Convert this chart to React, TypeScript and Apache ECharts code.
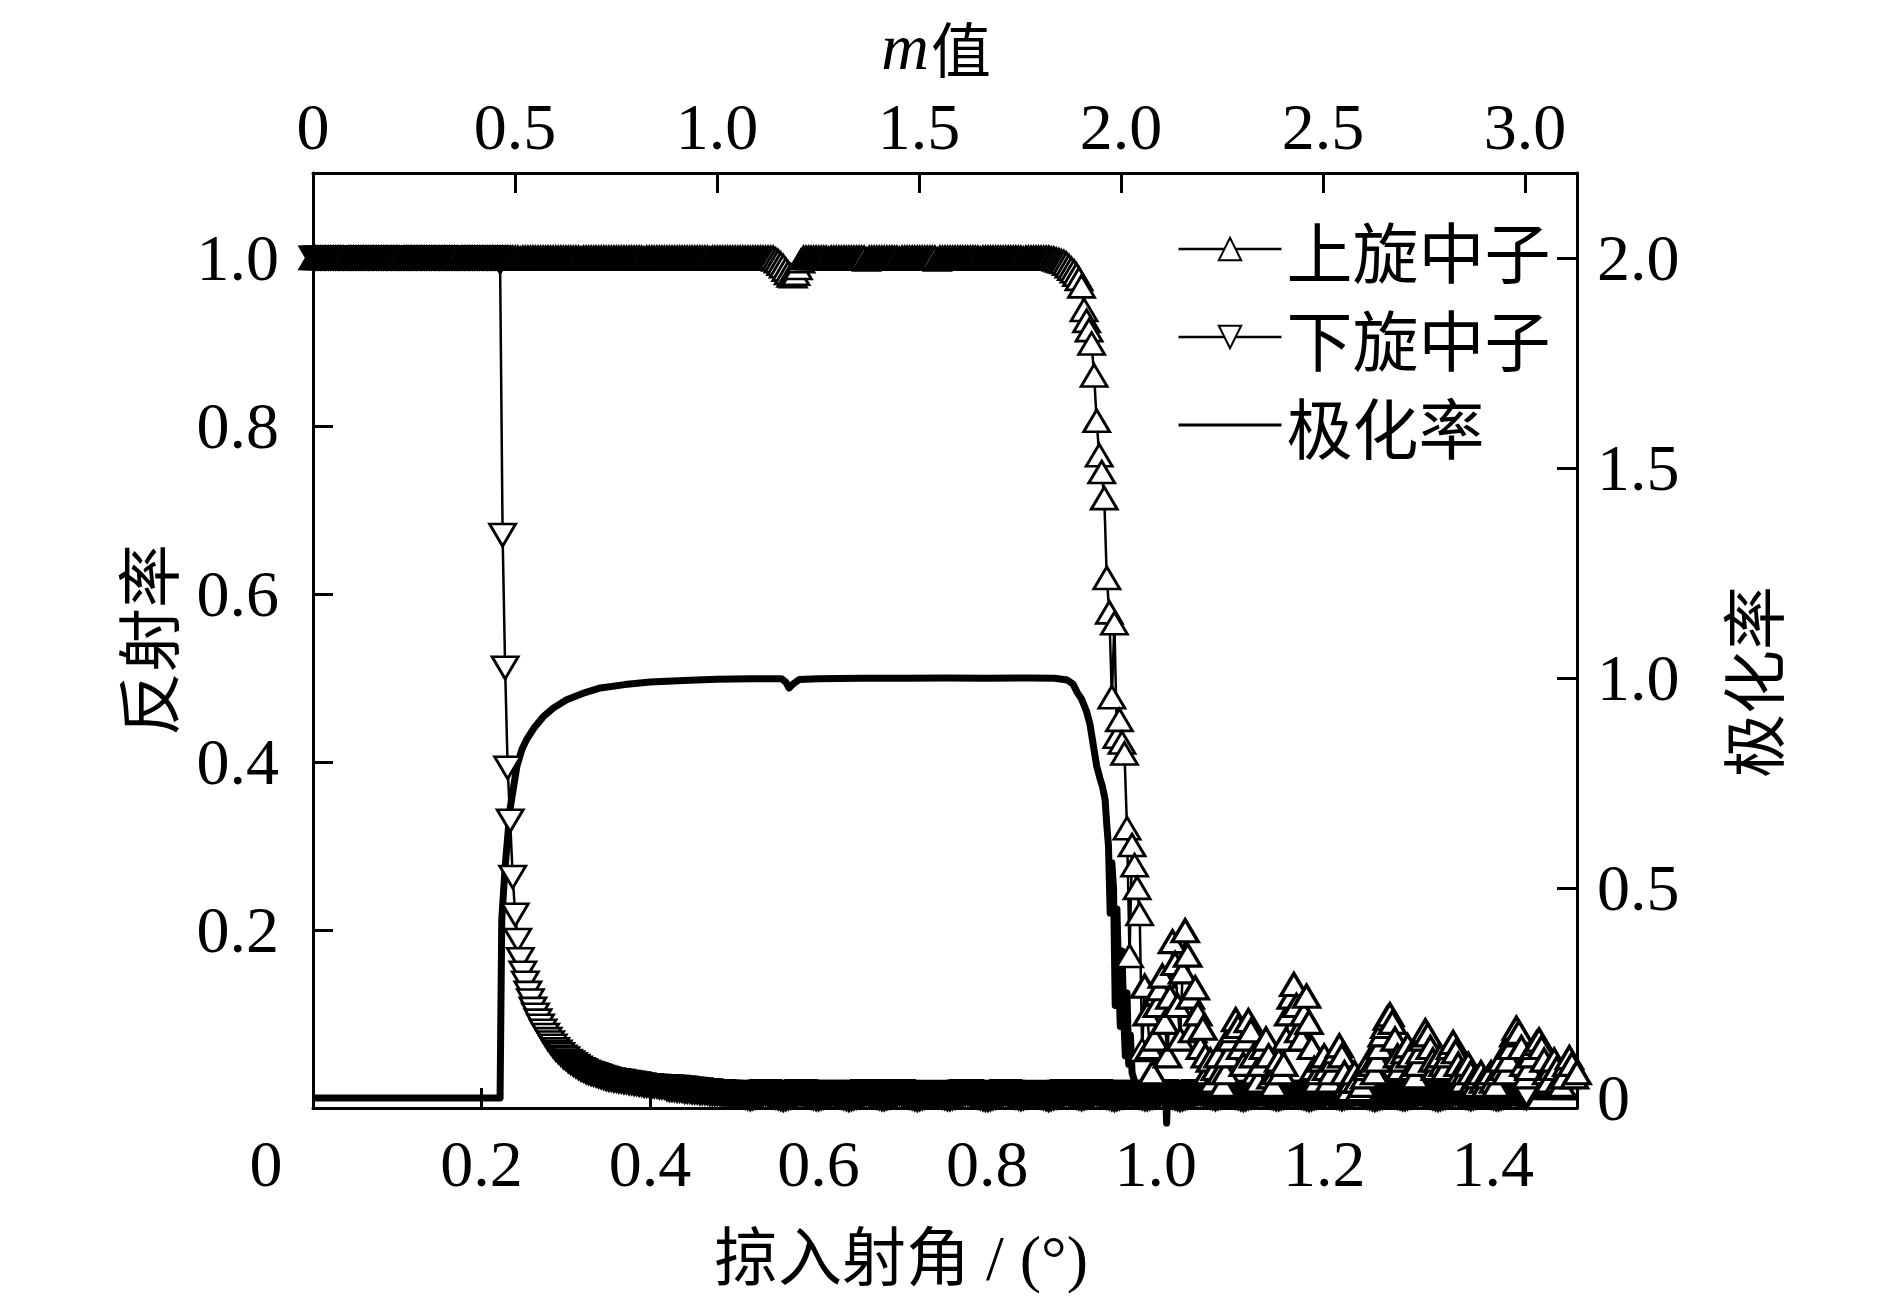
import React, { useEffect, useRef } from "react";
import * as echarts from "echarts";

// Grazing angle grid step (degrees) of the reflectivity measurements
const ANGLE_STEP = 0.003;

// Spin-up reflectivity, one value per ANGLE_STEP from 0 to 1.5 deg
const spinUp: number[] = [
  1, 1, 1, 1, 1, 1, 1, 1, 1, 1,
  1, 1, 1, 0.999, 1, 1, 1, 1, 1, 1,
  1, 1, 1, 1, 1, 1, 1, 1, 1, 1,
  1, 1, 1, 1, 1, 0.999, 1, 1, 1, 1,
  1, 1, 1, 1, 1, 1, 1, 1, 1, 1,
  1, 1, 1, 1, 1, 1, 1, 1, 0.999, 1,
  1, 1, 1, 1, 1, 1, 1, 1, 1, 1,
  1, 1, 1, 1, 1, 1, 1, 1, 1, 1,
  1, 1, 0.999, 1, 1, 1, 1, 1, 1, 1,
  1, 1, 1, 1, 1, 1, 1, 1, 1, 1,
  1, 1, 1, 1, 1, 1, 0.999, 1, 1, 1,
  1, 1, 1, 1, 1, 1, 1, 1, 1, 1,
  1, 1, 1, 1, 1, 1, 1, 1, 1, 1,
  1, 0.999, 1, 1, 1, 1, 1, 1, 1, 1,
  1, 1, 1, 1, 1, 1, 1, 1, 1, 1,
  1, 1, 1, 1, 1, 1, 1, 0.999, 1, 1,
  1, 1, 1, 1, 1, 1, 1, 1, 1, 1,
  1, 1, 1, 1, 1, 1, 1, 1, 1, 1,
  1, 1, 1, 0.998, 0.996, 0.993, 0.99, 0.986, 0.982, 0.979,
  0.978, 0.981, 0.988, 0.996, 1, 1, 1, 1, 1, 1,
  1, 1, 1, 1, 0.999, 1, 1, 1, 1, 1,
  1, 1, 1, 1, 1, 1, 1, 1, 1, 0.998,
  1, 1, 1, 1, 1, 1, 1, 1, 1, 1,
  1, 1, 0.999, 1, 1, 1, 1, 1, 1, 1,
  1, 1, 1, 1, 1, 1, 1, 0.998, 1, 1,
  1, 1, 1, 1, 1, 1, 1, 1, 1, 1,
  1, 1, 1, 1, 0.999, 1, 1, 1, 1, 1,
  1, 1, 1, 1, 1, 1, 1, 1, 1, 1,
  1, 0.999, 1, 1, 1, 1, 1, 1, 1, 1,
  1, 1, 0.999, 0.999, 0.998, 0.997, 0.996, 0.995, 0.993, 0.99,
  0.987, 0.984, 0.98, 0.975, 0.966, 0.938, 0.925, 0.914, 0.898, 0.86,
  0.806, 0.765, 0.745, 0.714, 0.619, 0.578, 0.477, 0.565, 0.43, 0.45,
  0.423, 0.41, 0.321, 0.169, 0.301, 0.277, 0.25, 0.219, 0.057, 0.133,
  0.1, 0.06, 0.03, 0.07, 0.11, 0.13, 0.145, 0.09, 0.05, 0.12,
  0.186, 0.16, 0.11, 0.07, 0.15, 0.199, 0.17, 0.12, 0.08, 0.131,
  0.1, 0.06, 0.083, 0.05, 0.03, 0.045, 0.02, 0.035, 0.05, 0.03,
  0.015, 0.03, 0.05, 0.07, 0.08, 0.093, 0.085, 0.06, 0.04, 0.07,
  0.092, 0.08, 0.05, 0.03, 0.02, 0.04, 0.06, 0.07, 0.05, 0.025,
  0.015, 0.03, 0.045, 0.03, 0.04, 0.07, 0.1, 0.12, 0.135, 0.11,
  0.08, 0.07, 0.1, 0.121, 0.09, 0.06, 0.035, 0.02, 0.03, 0.045,
  0.05, 0.035, 0.02, 0.03, 0.045, 0.055, 0.062, 0.05, 0.03, 0.015,
  0.01, 0.02, 0.03, 0.02, 0.01, 0.015, 0.025, 0.035, 0.045, 0.04,
  0.03, 0.045, 0.06, 0.075, 0.085, 0.095, 0.099, 0.09, 0.07, 0.05,
  0.035, 0.045, 0.055, 0.062, 0.05, 0.035, 0.025, 0.04, 0.055, 0.07,
  0.08, 0.075, 0.06, 0.045, 0.035, 0.045, 0.05, 0.04, 0.035, 0.05,
  0.06, 0.066, 0.055, 0.04, 0.03, 0.02, 0.03, 0.04, 0.03, 0.02,
  0.015, 0.025, 0.03, 0.02, 0.015, 0.025, 0.03, 0.02, 0.015, 0.03,
  0.045, 0.035, 0.03, 0.045, 0.06, 0.075, 0.083, 0.078, 0.06, 0.04,
  0.025, 0.035, 0.05, 0.06, 0.065, 0.069, 0.06, 0.045, 0.03, 0.02,
  0.035, 0.045, 0.035, 0.02, 0.015, 0.025, 0.04, 0.048, 0.04, 0.025,
  0.03,
];

// Spin-down reflectivity, same angle grid
const spinDown: number[] = [
  1, 1, 1, 1, 1, 1, 1, 1, 1, 1,
  1, 1, 1, 1, 1, 1, 1, 1, 1, 1,
  1, 1, 1, 1, 1, 1, 1, 1, 1, 1,
  1, 1, 1, 1, 1, 1, 1, 1, 1, 1,
  1, 1, 1, 1, 1, 1, 1, 1, 1, 1,
  1, 1, 1, 1, 1, 1, 1, 1, 1, 1,
  1, 1, 1, 1, 1, 1, 1, 1, 1, 1,
  1, 1, 1, 1, 0.995, 0.67, 0.512, 0.393, 0.33, 0.263,
  0.218, 0.188, 0.165, 0.149, 0.137, 0.125, 0.116, 0.106, 0.099, 0.092,
  0.086, 0.08, 0.075, 0.07, 0.066, 0.062, 0.058, 0.055, 0.052, 0.049,
  0.047, 0.044, 0.042, 0.04, 0.038, 0.036, 0.034, 0.033, 0.031, 0.03,
  0.029, 0.028, 0.027, 0.026, 0.025, 0.024, 0.023, 0.022, 0.022, 0.021,
  0.021, 0.02, 0.02, 0.019, 0.019, 0.018, 0.018, 0.017, 0.017, 0.016,
  0.016, 0.015, 0.015, 0.015, 0.014, 0.014, 0.014, 0.013, 0.013, 0.013,
  0.013, 0.012, 0.012, 0.012, 0.011, 0.011, 0.011, 0.01, 0.01, 0.01,
  0.009, 0.009, 0.009, 0.008, 0.008, 0.008, 0.008, 0.007, 0.007, 0.007,
  0.007, 0.007, 0.006, 0.006, 0.006, 0.005, 0.005, 0.006, 0.005, 0.004,
  0.004, 0.003, 0.002, 0.001, 0.002, 0.003, 0.004, 0.005, 0.006, 0.007,
  0.006, 0.005, 0.004, 0.003, 0.002, 0.001, 0.0, 0.001, 0.002, 0.003,
  0.004, 0.005, 0.006, 0.007, 0.006, 0.005, 0.004, 0.003, 0.002, 0.001,
  0.001, 0.002, 0.003, 0.004, 0.005, 0.006, 0.006, 0.005, 0.004, 0.003,
  0.002, 0.001, 0.0, 0.001, 0.002, 0.003, 0.004, 0.005, 0.006, 0.007,
  0.006, 0.005, 0.004, 0.003, 0.002, 0.001, 0.001, 0.002, 0.003, 0.004,
  0.005, 0.006, 0.007, 0.006, 0.005, 0.004, 0.003, 0.002, 0.001, 0.0,
  0.001, 0.002, 0.003, 0.004, 0.005, 0.005, 0.006, 0.005, 0.004, 0.003,
  0.002, 0.001, 0.001, 0.002, 0.003, 0.004, 0.005, 0.006, 0.007, 0.007,
  0.006, 0.005, 0.004, 0.003, 0.002, 0.001, 0.0, 0.0, 0.001, 0.002,
  0.003, 0.004, 0.005, 0.006, 0.007, 0.006, 0.005, 0.004, 0.003, 0.002,
  0.001, 0.002, 0.003, 0.004, 0.005, 0.006, 0.005, 0.004, 0.003, 0.002,
  0.001, 0.0, 0.001, 0.002, 0.003, 0.004, 0.005, 0.006, 0.007, 0.006,
  0.005, 0.004, 0.003, 0.002, 0.001, 0.002, 0.003, 0.004, 0.005, 0.006,
  0.007, 0.006, 0.005, 0.004, 0.003, 0.002, 0.001, 0.0, 0.001, 0.002,
  0.003, 0.004, 0.005, 0.006, 0.006, 0.005, 0.004, 0.003, 0.002, 0.001,
  0.001, 0.002, 0.003, 0.004, 0.005, 0.006, 0.007, 0.006, 0.005, 0.004,
  0.003, 0.002, 0.001, 0.0, 0.001, 0.002, 0.003, 0.004, 0.005, 0.006,
  0.007, 0.007, 0.006, 0.005, 0.004, 0.003, 0.002, 0.001, 0.002, 0.003,
  0.004, 0.005, 0.006, 0.005, 0.004, 0.003, 0.002, 0.001, 0.0, 0.001,
  0.002, 0.003, 0.004, 0.005, 0.006, 0.007, 0.006, 0.005, 0.004, 0.003,
  0.002, 0.001, 0.001, 0.002, 0.003, 0.004, 0.005, 0.006, 0.006, 0.005,
  0.004, 0.003, 0.002, 0.001, 0.0, 0.001, 0.002, 0.003, 0.004, 0.005,
  0.006, 0.007, 0.006, 0.005, 0.004, 0.003, 0.002, 0.001, 0.002, 0.003,
  0.004, 0.005, 0.006, 0.007, 0.006, 0.005, 0.004, 0.003, 0.002, 0.001,
  0.0, 0.001, 0.002, 0.003, 0.004, 0.005, 0.006, 0.005, 0.004, 0.003,
  0.002, 0.001, 0.001, 0.002, 0.003, 0.004, 0.005, 0.006, 0.007, 0.006,
  0.005, 0.004, 0.003, 0.002, 0.001, 0.0, 0.001, 0.002, 0.003, 0.004,
  0.005, 0.006, 0.007, 0.006, 0.005, 0.004, 0.003, 0.002, 0.001, 0.002,
  0.003, 0.004, 0.005, 0.006, 0.005, 0.004, 0.003, 0.002, 0.001, 0.001,
  0.002, 0.003, 0.004, 0.005, 0.006, 0.007, 0.006, 0.005, 0.004, 0.003,
  0.002,
];

// Polarization [angle (deg), value] on the right axis
const polarization: [number, number][] = [
  [0, 0], [0.05, 0], [0.1, 0], [0.15, 0], [0.2, 0], [0.222, 0],
  [0.224, 0.424], [0.228, 0.55], [0.234, 0.69], [0.242, 0.79], [0.248, 0.83],
  [0.254, 0.855], [0.262, 0.88], [0.273, 0.907], [0.285, 0.928], [0.301, 0.948],
  [0.32, 0.963], [0.341, 0.976], [0.37, 0.984], [0.4, 0.99], [0.44, 0.994],
  [0.479, 0.997], [0.52, 0.998], [0.556, 0.998], [0.561, 0.99], [0.565, 0.976],
  [0.57, 0.986], [0.577, 0.996], [0.6, 0.998], [0.65, 0.999], [0.7, 0.999],
  [0.75, 1.0], [0.8, 0.999], [0.85, 1.0], [0.88, 0.999], [0.895, 0.995],
  [0.902, 0.985], [0.907, 0.965], [0.912, 0.95], [0.918, 0.92], [0.922, 0.89],
  [0.926, 0.84], [0.93, 0.79], [0.934, 0.76], [0.937, 0.74], [0.94, 0.71],
  [0.942, 0.65], [0.944, 0.6], [0.946, 0.44], [0.948, 0.56], [0.95, 0.5],
  [0.952, 0.22], [0.954, 0.45], [0.956, 0.3], [0.958, 0.17], [0.96, 0.35],
  [0.962, 0.2], [0.964, 0.1], [0.966, 0.25], [0.968, 0.08], [0.97, 0.15],
  [0.972, 0.06], [0.975, 0.04], [0.978, 0.02], [0.982, 0.01], [0.99, 0.005],
  [1.0, 0.004], [1.012, 0.003], [1.013, -0.06], [1.014, 0.003], [1.05, 0.004],
  [1.1, 0.003], [1.2, 0.003], [1.3, 0.002], [1.4, 0.003], [1.5, 0.002],
];

// Axis ticks / labels
const angleTicks = [0.2, 0.4, 0.6, 0.8, 1.0, 1.2, 1.4];
const mTicks = [0.5, 1.0, 1.5, 2.0, 2.5, 3.0];
const mLabels = [0, 0.5, 1.0, 1.5, 2.0, 2.5, 3.0];
const reflTicks = [0.2, 0.4, 0.6, 0.8, 1.0];
const polTicks = [0.5, 1.0, 1.5, 2.0];
const polLabels = [0, 0.5, 1.0, 1.5, 2.0];

const seriesNames = ["上旋中子", "下旋中子", "极化率"];

const SERIF = "'Liberation Serif', 'Times New Roman', serif";
const CJK = "'Noto Sans CJK SC', sans-serif";
const MIXED = "'Liberation Serif', 'Noto Sans CJK SC', serif";

const fmt = (v: number) => (v === 0 ? "0" : v.toFixed(1));

export default function App() {
  const ref = useRef<HTMLDivElement>(null);

  useEffect(() => {
    if (!ref.current) return;
    const chart = echarts.init(ref.current, undefined, { renderer: "svg" });

    // dense overlapping markers (flat tails) get a heavier outline, as in the original print
    const upData = spinUp.map((v, i) =>
      i >= 329 ? { value: [i * ANGLE_STEP, v], itemStyle: { borderWidth: 3.4 } } : [i * ANGLE_STEP, v]
    );
    const downData = spinDown.map((v, i) =>
      i >= 140 ? { value: [i * ANGLE_STEP, v], itemStyle: { borderWidth: 4.5 } } : [i * ANGLE_STEP, v]
    );

    const axisLine = { show: true, onZero: false, lineStyle: { color: "#000", width: 3 } };
    const tickBase = { show: true, inside: true, length: 20, lineStyle: { color: "#000", width: 3 } };
    const labelBase = { color: "#000", fontSize: 66, fontFamily: SERIF };

    const markerSeries = (name: string, data: any[], rotate: number) => ({
      name,
      type: "line",
      xAxisIndex: 0,
      yAxisIndex: 0,
      data,
      symbol: "triangle",
      symbolSize: [26, 22],
      symbolRotate: rotate,
      showSymbol: true,
      showAllSymbol: true,
      lineStyle: { color: "#000", width: 2.5 },
      itemStyle: { color: "#fff", borderColor: "#000", borderWidth: 2.8 },
      emphasis: { disabled: true },
      silent: true,
    });

    chart.setOption({
      animation: false,
      backgroundColor: "#fff",
      textStyle: { fontFamily: MIXED },
      grid: { left: 313, right: 313, top: 173, bottom: 191, containLabel: false },
      xAxis: [
        {
          type: "value",
          position: "bottom",
          min: 0,
          max: 1.5,
          axisLine,
          axisTick: { ...tickBase, customValues: angleTicks },
          axisLabel: { ...labelBase, customValues: angleTicks, formatter: fmt, margin: 22 },
          splitLine: { show: false },
        },
        {
          type: "value",
          position: "top",
          min: 0,
          max: 3.129,
          axisLine,
          axisTick: { ...tickBase, customValues: mTicks },
          axisLabel: { ...labelBase, customValues: mLabels, formatter: fmt, margin: 14 },
          splitLine: { show: false },
        },
      ],
      yAxis: [
        {
          type: "value",
          position: "left",
          min: -0.012,
          max: 1.101,
          axisLine,
          axisTick: { ...tickBase, customValues: reflTicks },
          axisLabel: { ...labelBase, customValues: reflTicks, formatter: fmt, margin: 34, padding: [0, 0, 10, 0] },
          splitLine: { show: false },
        },
        {
          type: "value",
          position: "right",
          min: -0.024,
          max: 2.202,
          axisLine,
          axisTick: { ...tickBase, customValues: polTicks },
          axisLabel: { ...labelBase, customValues: polLabels, formatter: fmt, margin: 20, padding: [0, 0, 10, 0] },
          splitLine: { show: false },
        },
      ],
      legend: {
        orient: "vertical",
        left: 1172,
        top: 211,
        itemWidth: 103,
        itemHeight: 28,
        itemGap: 22,
        selectedMode: false,
        textStyle: { fontSize: 66, fontFamily: CJK, color: "#000" },
        data: [
          { name: seriesNames[0], lineStyle: { width: 2.5 } },
          { name: seriesNames[1], lineStyle: { width: 2.5 } },
          {
            name: seriesNames[2],
            lineStyle: { width: 3 },
            itemStyle: { color: "rgba(0,0,0,0)", borderColor: "rgba(0,0,0,0)", borderWidth: 0, opacity: 0 },
          },
        ],
      },
      graphic: [
        {
          type: "text",
          x: 266,
          y: 1163,
          style: { text: "0", fontSize: 66, fontFamily: SERIF, fill: "#000", align: "center", verticalAlign: "middle" },
        },
        {
          type: "text",
          x: 929,
          y: 46,
          style: { text: "m", fontSize: 66, fontFamily: SERIF, fontStyle: "italic", fill: "#000", align: "right", verticalAlign: "middle" },
        },
        {
          type: "text",
          x: 931,
          y: 46,
          style: { text: "值", fontSize: 60, fontFamily: CJK, fill: "#000", align: "left", verticalAlign: "middle" },
        },
        {
          type: "text",
          x: 714,
          y: 1258,
          style: { text: "掠入射角 / (°)", fontSize: 64, fontFamily: MIXED, fill: "#000", align: "left", verticalAlign: "middle" },
        },
        {
          type: "text",
          x: 145,
          y: 640,
          rotation: Math.PI / 2,
          style: { text: "反射率", fontSize: 64, fontFamily: CJK, fill: "#000", align: "center", verticalAlign: "middle" },
        },
        {
          type: "text",
          x: 1750,
          y: 682,
          rotation: Math.PI / 2,
          style: { text: "极化率", fontSize: 64, fontFamily: CJK, fill: "#000", align: "center", verticalAlign: "middle" },
        },
      ],
      series: [
        markerSeries(seriesNames[1], downData, 180),
        {
          name: seriesNames[2],
          type: "line",
          xAxisIndex: 0,
          yAxisIndex: 1,
          data: polarization,
          symbol: "none",
          clip: false,
          lineStyle: { color: "#000", width: 7, join: "round" },
          itemStyle: { color: "#000" },
          emphasis: { disabled: true },
          silent: true,
        },
        markerSeries(seriesNames[0], upData, 0),
      ],
    });

    return () => chart.dispose();
  }, []);

  return (
    <div
      ref={ref}
      style={{ position: "fixed", left: 0, top: 0, width: 1890, height: 1299, background: "#fff" }}
    />
  );
}
